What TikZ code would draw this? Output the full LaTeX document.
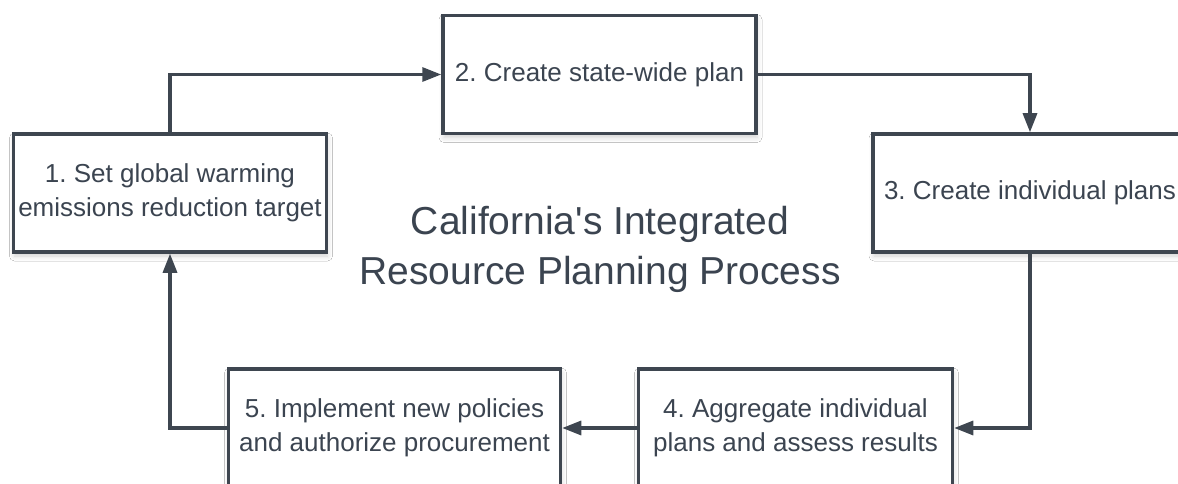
\documentclass[tikz,border=0pt]{standalone}
\usepackage{fontspec}
\setmainfont{Liberation Sans}[Ligatures=TeXOff]
\usetikzlibrary{arrows.meta,shadows.blur}
\definecolor{ink}{HTML}{3B4450}
\definecolor{edge}{HTML}{3E4650}
\frenchspacing
\begin{document}
\begin{tikzpicture}[x=1pt,y=-1pt,
  stepbox/.style={draw=edge, line width=3.5pt, fill=white, rectangle, inner sep=0pt,
    minimum height=118pt, align=center, text=ink,
    font=\fontsize{26}{34}\selectfont,
    blur shadow={shadow xshift=1pt, shadow yshift=-4pt, shadow blur radius=5pt, shadow opacity=18}},
  flow/.style={draw=edge, line width=3.2pt, -{Triangle[length=19pt,width=14pt]}},
  titletext/.style={align=center, font=\fontsize{39}{50}\selectfont}]
\useasboundingbox (0,0) rectangle (1178,484);
\fill[white] (0,0) rectangle (1178,484);
\node (title) [titletext, text=ink] at (600,249) {California's Integrated\\Resource Planning Process};
% boxes
\node (b1) [stepbox, minimum width=313pt] at (170,193) {1. Set global warming\\emissions reduction target};
\node (b2) [stepbox, minimum width=313pt] at (599.5,74.5) {2. Create state-wide plan};
\node (b3) [stepbox, minimum width=314pt] at (1030,193) {3. Create individual plans};
\node (b4) [stepbox, minimum width=314pt] at (795.5,428) {4. Aggregate individual\\plans and assess results};
\node (b5) [stepbox, minimum width=332pt] at (394.5,428) {5. Implement new policies\\and authorize procurement};
% connectors
\draw[flow] (b1.north) |- (b2.west);
\draw[flow] (b2.east) -| (b3.north);
\draw[flow] (b3.south) |- (b4.east);
\draw[flow] (b4.west) -- (b5.east);
\draw[flow] (b5.west) -| (b1.south);
\end{tikzpicture}
\end{document}
